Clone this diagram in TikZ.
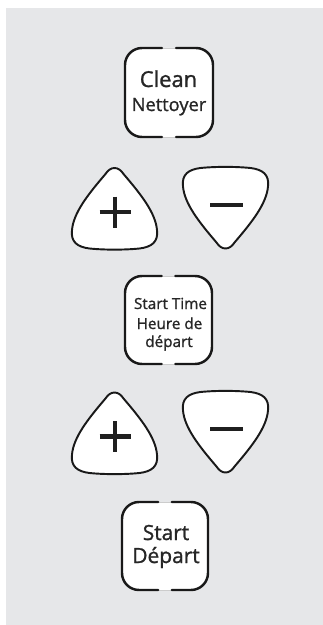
\documentclass[tikz,border=0pt]{standalone}
\usepackage{fontspec}
\setmainfont{Open Sans}[FakeBold=1.2]
\usetikzlibrary{calc}
\definecolor{panelgray}{RGB}{230,231,233}

% key with rounded corners, thick sides, faint middle of top and bottom
\newcommand{\keybtn}[4]{%
  \fill[white, rounded corners=0.34cm] (#1,#2) rectangle (#3,#4);
  \draw[line width=0.3pt, black!20] ($(#1,#2)!.3!(#3,#2)$) -- ($(#1,#2)!.7!(#3,#2)$)
       ($(#1,#4)!.3!(#3,#4)$) -- ($(#1,#4)!.7!(#3,#4)$);
  \draw[keyedge, rounded corners=0.34cm] ($(#1,#2)!.42!(#3,#2)$) -- (#1,#2) -- (#1,#4) -- ($(#1,#4)!.42!(#3,#4)$);
  \draw[keyedge, rounded corners=0.34cm] ($(#3,#2)!.42!(#1,#2)$) -- (#3,#2) -- (#3,#4) -- ($(#3,#4)!.42!(#1,#4)$);
}
\newcommand{\padshape}{%
  (-9,-34) .. controls (-4,-42) and (4,-42) .. (9,-34)
  .. controls (27,-13) and (41,5) .. (42.5,22)
  .. controls (44,34) and (37,39) .. (25,40.5)
  .. controls (10,42) and (-10,42) .. (-25,40.5)
  .. controls (-37,39) and (-44,34) .. (-42.5,22)
  .. controls (-41,5) and (-27,-13) .. (-9,-34) -- cycle}

\begin{document}
\begin{tikzpicture}[x=0.02cm, y=-0.02cm,
    keyedge/.style={line width=1.4pt, line cap=round, draw=black!90},
    padedge/.style={line width=1.1pt, draw=black!90, fill=white},
    sign/.style={line width=2.6pt, draw=black!88},
    keytext/.style={inner sep=0pt, anchor=base, text=black!85},
    pluskey/.pic={
      \draw[padedge] \padshape;
      \draw[sign] (-15,4) -- (16,4) (0.5,-11.5) -- (0.5,19.5);
    },
    minuskey/.pic={
      \draw[padedge, yscale=-1] \padshape;
      \draw[sign] (-15.5,-3.5) -- (17.5,-3.5);
    }]
  \fill[white] (0,0) rectangle (323,625);
  \fill[panelgray] (6,8) rectangle (323,625);

  % Clean
  \keybtn{125}{48}{213}{137}
  \node[keytext, font=\fontsize{12.5}{14}\selectfont] (clean) at (168.5,87) {Clean};
  \node[keytext, font=\fontsize{10.4}{12}\selectfont] (nettoyer) at (169,111) {Nettoyer};

  \pic (plusa) at (114.5,208) {pluskey};
  \pic (minusa) at (225.5,208.5) {minuskey};

  % Start Time
  \keybtn{125}{276}{212}{364}
  \node[keytext, font=\fontsize{8.7}{10}\selectfont] (starttime) at (170.5,309) {Start Time};
  \node[keytext, font=\fontsize{8.7}{10}\selectfont] (heure) at (169.5,329) {Heure de};
  \node[keytext, font=\fontsize{8.7}{10}\selectfont] (depart) at (169,347) {départ};

  \pic (plusb) at (114.5,432.5) {pluskey};
  \pic (minusb) at (225.5,432.5) {minuskey};

  % Start
  \keybtn{122}{502}{208}{590}
  \node[keytext, font=\fontsize{11.9}{14}\selectfont] (start) at (166,540) {Start};
  \node[keytext, font=\fontsize{11.9}{14}\selectfont] (departb) at (166,563) {Départ};
\end{tikzpicture}
\end{document}
